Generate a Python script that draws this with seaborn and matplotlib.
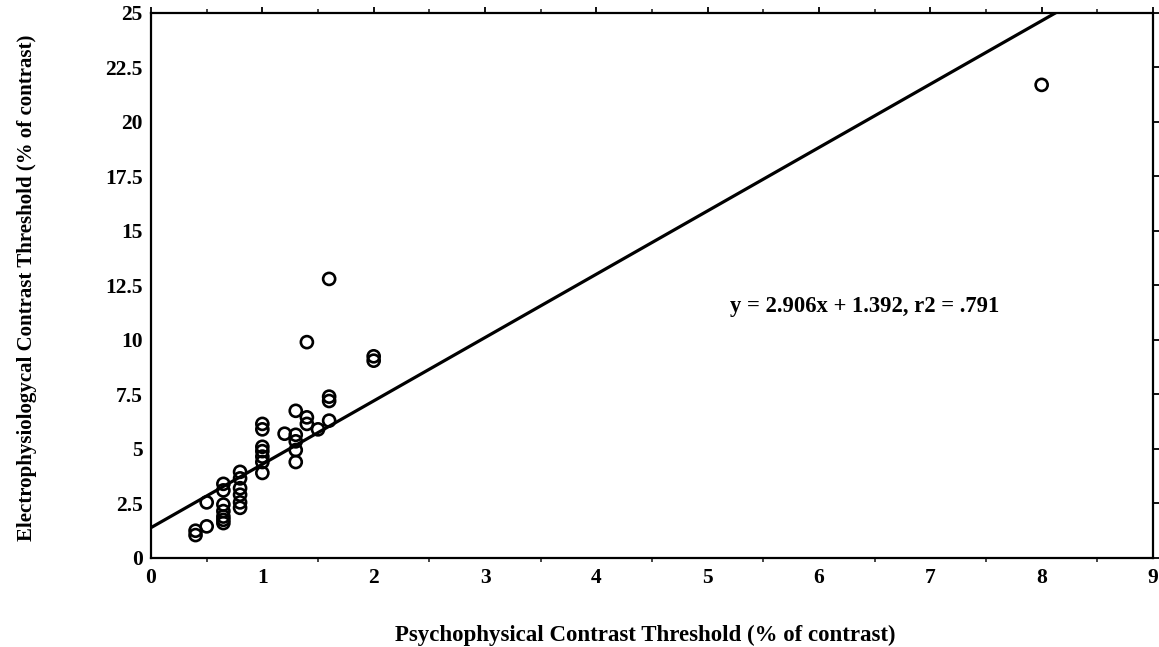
import numpy as np
import pandas as pd
import matplotlib
matplotlib.use("Agg")
import matplotlib.pyplot as plt
import seaborn as sns
from matplotlib.ticker import MultipleLocator

# Psychophysical vs electrophysiological contrast thresholds (% contrast)
psycho = [0.4, 0.4,
          0.5, 0.5,
          0.65, 0.65, 0.65, 0.65, 0.65, 0.65, 0.65,
          0.8, 0.8, 0.8, 0.8, 0.8, 0.8,
          1.0, 1.0, 1.0, 1.0, 1.0, 1.0, 1.0,
          1.2,
          1.3, 1.3, 1.3, 1.3, 1.3,
          1.4, 1.4, 1.4,
          1.5,
          1.6, 1.6, 1.6, 1.6,
          2.0, 2.0,
          8.0]
electro = [1.25, 1.05,
           2.55, 1.45,
           3.4, 3.1, 2.45, 2.15, 1.9, 1.75, 1.6,
           3.95, 3.65, 3.2, 2.9, 2.55, 2.3,
           6.15, 5.9, 5.1, 4.9, 4.65, 4.4, 3.9,
           5.7,
           6.75, 5.65, 5.35, 4.95, 4.4,
           9.9, 6.45, 6.15,
           5.9,
           12.8, 7.4, 7.2, 6.3,
           9.25, 9.05,
           21.7]

# Regression line stated on the chart
slope = 2.906
intercept = 1.392
r2_text = ".791"

x_ticks = [0, 1, 2, 3, 4, 5, 6, 7, 8, 9]
y_ticks = [0, 2.5, 5, 7.5, 10, 12.5, 15, 17.5, 20, 22.5, 25]
y_tick_labels = ["0", "2.5", "5", "7.5", "10", "12.5", "15", "17.5", "20", "22.5", "25"]

x_label = "Psychophysical Contrast Threshold (% of contrast)"
y_label = "Electrophysiologycal Contrast Threshold (% of contrast)"

sns.set_theme(style="white")
plt.rcParams["font.family"] = ["Liberation Serif", "DejaVu Serif"]

fig = plt.figure(figsize=(11.59, 6.47), dpi=100)
ax = fig.add_axes([0.1303, 0.1376, 0.8645, 0.8424])

df = pd.DataFrame({"psycho": psycho, "electro": electro})
sns.scatterplot(data=df, x="psycho", y="electro", ax=ax, marker="o", s=75,
                facecolor="none", edgecolor="black", linewidth=1.9, zorder=3)

line_x = np.array([0.0, 9.0])
line_df = pd.DataFrame({"x": line_x, "y": slope * line_x + intercept})
sns.lineplot(data=line_df, x="x", y="y", ax=ax, color="black", linewidth=2.3, zorder=2)

ax.set_xlim(0, 9)
ax.set_ylim(0, 25)
ax.set_xticks(x_ticks)
ax.set_xticklabels([str(t) for t in x_ticks])
ax.set_yticks(y_ticks)
ax.set_yticklabels(y_tick_labels)
ax.xaxis.set_minor_locator(MultipleLocator(0.5))

for s in ax.spines.values():
    s.set_color("black")
    s.set_linewidth(1.6)

ax.tick_params(axis="both", which="major", labelsize=15.5, colors="black",
               direction="out", length=4, width=1.3, pad=2)
ax.tick_params(axis="x", which="minor", direction="out", length=3, width=1.2,
               bottom=True, top=True)
ax.tick_params(axis="x", which="major", top=True, pad=3)
ax.tick_params(axis="y", which="major", right=True)
for lab in ax.get_xticklabels() + ax.get_yticklabels():
    lab.set_fontweight("semibold")

ax.set_xlabel(x_label, fontsize=16.5, fontweight="bold", color="black", labelpad=27)
ax.xaxis.label.set_x(0.4935)
ax.set_ylabel(y_label, fontsize=15, fontweight="bold", color="black", labelpad=49)
ax.yaxis.label.set_y(0.495)

ax.text(5.2, 11.55, f"y = {slope:.3f}x + {intercept:.3f}, r2 = {r2_text}",
        fontsize=16.3, fontweight="bold", color="black", va="center", ha="left")

fig.savefig("out.png", dpi=100, facecolor="white")
